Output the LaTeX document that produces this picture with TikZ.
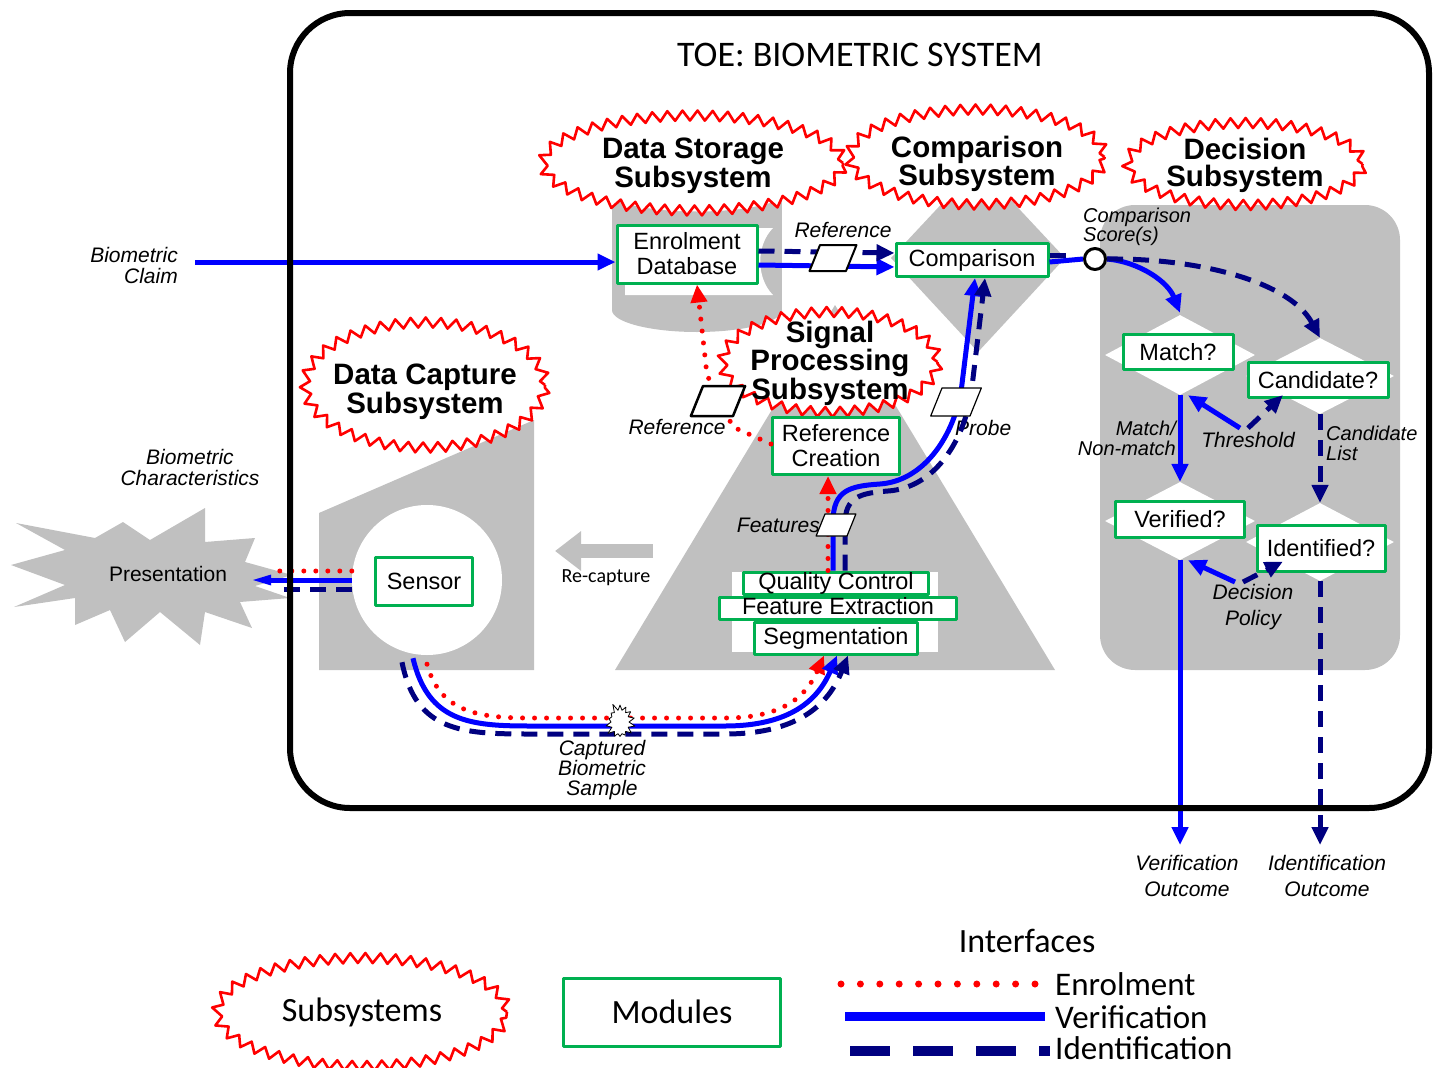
\documentclass[tikz,border=0pt]{standalone}
\usepackage{fontspec}
\setmainfont{Liberation Sans}
\newfontfamily\calibri{Carlito}
\usetikzlibrary{shapes.geometric,shapes.symbols,decorations.pathmorphing,arrows.meta,calc}
\definecolor{vblue}{RGB}{0,0,255}
\definecolor{inavy}{RGB}{0,0,128}
\definecolor{ered}{RGB}{255,0,0}
\definecolor{mgreen}{RGB}{0,176,80}
\definecolor{sgray}{RGB}{192,192,192}
\begin{document}
\begin{tikzpicture}[x=1pt,y=-1pt,line join=round,>={Triangle[length=18pt,width=16pt]}]
\tikzset{
  subsys/.style={ellipse,draw=ered,line width=2.6pt,fill=white,inner sep=0pt,
    decorate,decoration={zigzag,segment length=15pt,amplitude=5pt}},
  subtxt/.style={font=\bfseries\fontsize{29.5}{27}\selectfont,align=center,inner sep=0pt},
  module/.style={draw=mgreen,line width=3pt,fill=white,inner sep=0pt,align=center,
    font=\fontsize{23.5}{25}\selectfont},
  stack/.style={module,text height=17pt,text depth=5pt},
  lbl/.style={font=\itshape\fontsize{21}{21}\selectfont,align=center,inner sep=0pt},
  enrol/.style={ered,line width=5pt,line cap=round,dash pattern=on 0pt off 12pt},
  verif/.style={vblue,line width=5pt},
  ident/.style={inavy,line width=5pt,dash pattern=on 16pt off 10pt},
  datablk/.style={trapezium,trapezium left angle=68,trapezium right angle=112,draw,fill=white,
    line width=1.2pt,inner sep=2pt},
  dec/.style={diamond,fill=white,inner sep=0pt},
  legtxt/.style={font=\calibri\fontsize{34}{34}\selectfont}
}
\useasboundingbox (0,0) rectangle (1433,1068);
% grey areas
\fill[sgray] (16,523) -- (95,538) -- (123,522) -- (150,540) -- (205,508) -- (205,542) -- (255,538)
  -- (245,562) -- (292,575) -- (255,586) -- (290,598) -- (240,602) -- (252,628) -- (205,612)
  -- (200,645) -- (160,612) -- (125,642) -- (110,610) -- (75,625) -- (75,598) -- (14,607)
  -- (65,585) -- (11,565) -- (65,550) -- cycle;
\fill[sgray] (319,513) -- (534,420) -- (534,670) -- (319,670) -- cycle;
\fill[sgray] (615,670) -- (835,305) -- (1055,670) -- cycle;
\fill[white] (732,572) rectangle (938,652);
\fill[sgray] (978,165) -- (1065,258) -- (978,352) -- (891,258) -- cycle;
\fill[sgray] (612,190) rectangle (782,310);
\fill[sgray] (697,310) ellipse [x radius=85, y radius=22];
\fill[sgray] (697,190) ellipse [x radius=85, y radius=20];
\draw[white,line width=3pt] (615,198) .. controls (650,214) and (744,214) .. (779,198);
\fill[white] (625,228) -- (773,228) .. controls (756,245) and (756,278) .. (773,295) -- (625,295) -- cycle;
\fill[sgray,rounded corners=35pt] (1100,205) rectangle (1400,670);
\draw[sgray,line width=14pt,-{Triangle[length=26pt,width=38pt]}] (653,551) -- (555,551);
\node[font=\calibri\fontsize{20}{20}\selectfont] (recap) at (606,578) {Re-capture};
\node[circle,fill=white,minimum size=150pt,inner sep=0pt] (capt) at (427,580) {};
% subsystems
\node[subsys,minimum width=300pt,minimum height=95pt] (dss) at (693,163) {};
\node[subtxt] at ([yshift=-3pt]dss) {Data Storage\\Subsystem};
\node[subsys,minimum width=255pt,minimum height=95pt] (cs) at (977,157) {};
\node[subtxt] at ([yshift=-7pt]cs) {Comparison\\Subsystem};
\node[subsys,minimum width=235pt,minimum height=82pt] (ds) at (1245,164) {};
\node[subtxt] at ([yshift=-1pt]ds) {Decision\\Subsystem};
\node[subsys,minimum width=240pt,minimum height=125pt] (dcs) at (425,385) {};
\node[subtxt] at ([yshift=-7pt]dcs) {Data Capture\\Subsystem};
\node[subsys,minimum width=215pt,minimum height=100pt] (sps) at (830,362) {};
\node[subtxt] at ([yshift=-1pt]sps) {Signal\\Processing\\Subsystem};
% decision diamonds
\node[dec,minimum width=150pt,minimum height=80pt] (matchd) at (1180,355) {};
\node[dec,minimum width=148pt,minimum height=76pt] (candd) at (1320,376) {};
\node[dec,minimum width=150pt,minimum height=78pt] (verd) at (1180,521) {};
\node[dec,minimum width=148pt,minimum height=78pt] (identd) at (1320,542) {};
% modules
\node[module,minimum width=140pt,minimum height=58pt] (db) at (687,254) {Enrolment\\Database};
\node[module,minimum width=152pt,minimum height=33pt] (cmp) at (972,260) {Comparison};
\node[module,minimum width=127pt,minimum height=57pt] (refc) at (836,446) {Reference\\Creation};
\node[stack,minimum width=185pt] (qc) at (836,583) {Quality Control};
\node[stack,minimum width=163pt,minimum height=32pt] (seg) at (836,638) {Segmentation};
\node[stack,minimum width=237pt] (fe) at (838,608) {Feature Extraction};
\node[module,minimum width=97pt,minimum height=48pt] (sensor) at (424,581) {Sensor};
\node[module,minimum width=110pt,minimum height=35pt] (match) at (1178,352) {Match?};
\node[module,minimum width=140pt,minimum height=35pt] (cand) at (1318,380) {Candidate?};
\node[module,minimum width=129pt,minimum height=36pt] (ver) at (1180,519) {Verified?};
\node[module,minimum width=128pt,minimum height=46pt] (ident) at (1321,548) {Identified?};
% labels
\node[font=\calibri\fontsize{36}{36}\selectfont] (title) at (860,55) {TOE: BIOMETRIC SYSTEM};
\node[lbl,align=right,anchor=east] (claim) at (178,265) {Biometric\\Claim};
\node[lbl] (chars) at (190,467) {Biometric\\Characteristics};
\node[font=\fontsize{21}{21}\selectfont,inner sep=0pt] (pres) at (168,574) {Presentation};
\node[lbl] (refl) at (843,230) {Reference};
\node[lbl] (refl2) at (677,427) {Reference};
\node[lbl,anchor=east] (featl) at (820,525) {Features};
\node[lbl,anchor=west] (probel) at (955,428) {Probe};
\node[lbl,align=left,anchor=west,font=\itshape\fontsize{20}{19}\selectfont] (scorel) at (1083,227) {Comparison\\Score(s)};
\node[lbl,align=right,anchor=east,font=\itshape\fontsize{20}{20}\selectfont] (mnl) at (1176,438) {Match/\\Non-match};
\node[lbl] (thr) at (1248,440) {Threshold};
\node[lbl,align=left,anchor=west,font=\itshape\fontsize{20}{20}\selectfont] (candl) at (1326,443) {Candidate\\List};
\node[lbl,font=\itshape\fontsize{21}{26}\selectfont] (pol) at (1253,607) {Decision\\Policy};
\node[lbl,anchor=north,font=\itshape\fontsize{21}{26}\selectfont] (vout) at (1187,855) {Verification\\Outcome};
\node[lbl,anchor=north,font=\itshape\fontsize{21}{26}\selectfont] (iout) at (1327,855) {Identification\\Outcome};
\node[lbl,font=\itshape\fontsize{21}{20}\selectfont] (capl) at (602,770) {Captured\\Biometric\\Sample};
% interfaces
\draw[verif,->] (claim.east) ++(17,-3) -- ([yshift=-8pt]db.west);
\draw[verif,->] ([yshift=-11pt]db.east) -- ([yshift=-7pt]cmp.west);
\draw[ident,->] ([yshift=3pt]db.east) -- ([yshift=7pt]cmp.west);
\node[datablk,line width=2pt,minimum width=30pt,minimum height=26pt] (refblk) at (833,258) {};
\node[circle,draw,line width=3pt,fill=white,minimum size=21pt,inner sep=0pt] (score) at (1095,259) {};
\draw[verif] ([yshift=-2pt]cmp.east) -- (score.west);
\draw[ident] ([yshift=5pt]cmp.east) -- ++(22,0);
\draw[verif,->] (score.east) .. controls (1140,262) and (1168,282) .. ([yshift=2pt]matchd.north);
\draw[ident,->] (score.east) .. controls (1200,258) and (1290,282) .. (candd.north);
\draw[verif,->] (matchd.south) -- (verd.north);
\draw[ident,->] (candd.south) -- (identd.north);
\draw[verif,->] ([xshift=-8pt,yshift=4pt]thr.north) -- ([xshift=8pt]matchd.south);
\draw[ident,->] ([yshift=4pt]thr.north) -- (candd.south west);
\draw[verif,->] ([xshift=-18pt,yshift=2pt]pol.north) -- ([xshift=8pt]verd.south);
\draw[ident,->] ([xshift=-10pt,yshift=2pt]pol.north) -- (identd.south west);
\draw[verif,->,shorten >=10pt] (verd.south) -- (verd.south |- vout.north);
\draw[ident,->,shorten >=10pt] (identd.south) -- (identd.south |- iout.north);
% capture to presentation
\draw[enrol] ($(capt.west)+(0,-9)$) -- ($(pres.east |- capt.west)+(48,-9)$);
\draw[verif,-{Triangle[length=22pt,width=9pt]}] (capt.west) -- ($(pres.east |- capt.west)+(22,0)$);
\draw[ident] ($(capt.west)+(0,9)$) -- ($(pres.east |- capt.west)+(55,9)$);
% capture to signal processing
\draw[enrol,->] ($(capt.south)+(0,9)$) .. controls (440,712) and (478,718) .. (530,718) -- (725,718)
  .. controls (782,718) and (806,697) .. ([xshift=-12pt]seg.south);
\draw[verif,->] ($(capt.south)+(-14,3)$) .. controls (428,722) and (470,726) .. (530,726) -- (725,726)
  .. controls (790,726) and (818,700) .. ([xshift=1pt]seg.south);
\draw[ident,->] ($(capt.south)+(-25,7)$) .. controls (416,732) and (462,734) .. (530,734) -- (725,734)
  .. controls (796,734) and (828,706) .. ([xshift=12pt]seg.south);
\node[starburst,draw,fill=white,line width=0.8pt,starburst points=14,starburst point height=8pt,
  random starburst=5,minimum width=34pt,minimum height=40pt,inner sep=0pt] (sample) at (620,722) {};
% signal processing to storage and comparison
\draw[enrol,->] ([xshift=-8pt]qc.north) -- ([xshift=-8pt]refc.south);
\draw[verif,->] ([xshift=-3pt]qc.north) -- (833,522) .. controls (833,490) and (850,486) .. (880,484)
  .. controls (922,481) and (952,440) .. (961,392) -- ([xshift=3pt]cmp.south);
\draw[ident,->] ([xshift=9pt]qc.north) -- (845,524) .. controls (845,497) and (860,493) .. (888,491)
  .. controls (932,488) and (962,446) .. (971,395) -- ([xshift=13pt]cmp.south);
\draw[enrol,->] ([yshift=2pt]refc.west) -- (733,427) -- (707,375) -- ([xshift=10pt]db.south);
\node[datablk,minimum width=24pt,minimum height=22pt] (featblk) at (836,525) {};
\node[datablk,minimum width=30pt,minimum height=28pt] (probeblk) at (956,402) {};
\node[datablk,line width=2.5pt,minimum width=30pt,minimum height=30pt] (refblk2) at (718,401) {};
% system boundary
\draw[line width=6pt,rounded corners=60pt] (290,13) rectangle (1429,808);
% legend
\node[subsys,minimum width=290pt,minimum height=108pt] (lsub) at (362,1012) {};
\node[legtxt] at (lsub) {Subsystems};
\node[legtxt,draw=mgreen,line width=3pt,minimum width=217pt,minimum height=68pt] (lmod) at (672,1012) {Modules};
\node[legtxt] (lint) at (1027,941) {Interfaces};
\node[legtxt,anchor=west,inner sep=0pt,font=\calibri\fontsize{33}{33}\selectfont] (lenr) at (1055,984) {Enrolment};
\node[legtxt,anchor=west,inner sep=0pt,font=\calibri\fontsize{33}{33}\selectfont] (lver) at (1055,1017) {Verification};
\node[legtxt,anchor=west,inner sep=0pt,font=\calibri\fontsize{33}{33}\selectfont] (lide) at (1055,1048) {Identification};
\draw[enrol,line width=7pt,dash pattern=on 0pt off 19.4pt] ($(lenr.west)+(-20,0)$) -- ++(-194,0);
\draw[verif,line width=9pt] ($(lver.west)+(-10,-1)$) -- ++(-200,0);
\draw[ident,line width=10pt,dash pattern=on 40pt off 23pt] ($(lide.west)+(-205,3)$) -- ++(200,0);
\end{tikzpicture}
\end{document}
